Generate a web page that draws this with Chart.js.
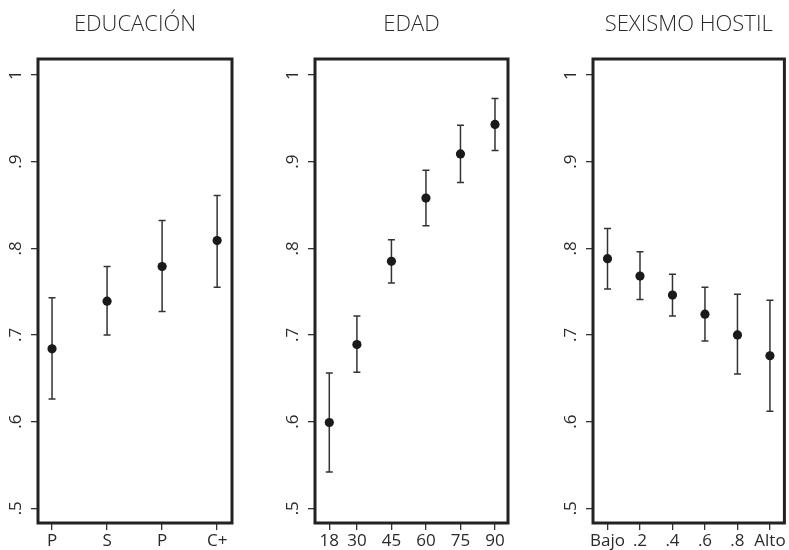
<!DOCTYPE html>
<html>
<head>
<meta charset="utf-8">
<script src="https://cdn.jsdelivr.net/npm/chart.js@4.4.1/dist/chart.umd.min.js"></script>
<style>
  html, body { margin: 0; padding: 0; background: #fff; }
  #wrap { position: relative; width: 789px; height: 550px; overflow: hidden; }
  canvas { position: absolute; top: 0; }
</style>
</head>
<body>
<div id="wrap">
  <canvas id="c1" width="240" height="550" style="left:0px"></canvas>
  <canvas id="c2" width="240" height="550" style="left:277px"></canvas>
  <canvas id="c3" width="234" height="550" style="left:555px"></canvas>
</div>
<script>
// Datos (probabilidad predicha con IC)
const yTicks = [0.5, 0.6, 0.7, 0.8, 0.9, 1];

const eduX = [1, 2, 3, 4];
const eduLabels = ['P', 'S', 'P', 'C+'];
const eduMean = [0.684, 0.739, 0.779, 0.809];
const eduLow = [0.626, 0.700, 0.727, 0.755];
const eduHigh = [0.743, 0.779, 0.832, 0.861];

const ageX = [18, 30, 45, 60, 75, 90];
const ageLabels = ['18', '30', '45', '60', '75', '90'];
const ageMean = [0.599, 0.689, 0.785, 0.858, 0.909, 0.943];
const ageLow = [0.542, 0.657, 0.760, 0.826, 0.876, 0.913];
const ageHigh = [0.656, 0.722, 0.810, 0.890, 0.942, 0.973];

const sexX = [0, 0.2, 0.4, 0.6, 0.8, 1];
const sexLabels = ['Bajo', '.2', '.4', '.6', '.8', 'Alto'];
const sexMean = [0.788, 0.768, 0.746, 0.724, 0.700, 0.676];
const sexLow = [0.753, 0.741, 0.722, 0.693, 0.655, 0.612];
const sexHigh = [0.823, 0.796, 0.770, 0.755, 0.747, 0.740];

const ink = '#2a2a2a';
const tickFont = { family: "'Open Sans', sans-serif", size: 17 };

// barras de error, dibujadas con las escalas del gráfico
const errorBars = {
    id: 'errorBars',
    beforeDatasetsDraw(chart, args, opts) {
        const { ctx, scales: { x, y } } = chart;
        ctx.save();
        ctx.strokeStyle = '#333';
        ctx.lineWidth = 1.5;
        opts.xs.forEach((v, i) => {
            const px = x.getPixelForValue(v);
            const top = y.getPixelForValue(opts.high[i]);
            const bot = y.getPixelForValue(opts.low[i]);
            ctx.beginPath();
            ctx.moveTo(px, top); ctx.lineTo(px, bot);
            ctx.moveTo(px - 3.5, top); ctx.lineTo(px + 3.5, top);
            ctx.moveTo(px - 3.5, bot); ctx.lineTo(px + 3.5, bot);
            ctx.stroke();
        });
        ctx.restore();
    }
};

// marco del panel
const frame = {
    id: 'frame',
    afterDraw(chart) {
        const { ctx, chartArea: a } = chart;
        ctx.save();
        ctx.strokeStyle = '#222';
        ctx.lineWidth = 3;
        ctx.strokeRect(a.left, a.top, a.right - a.left, a.bottom - a.top);
        ctx.restore();
    }
};

function makePanel(id, title, xs, labels, mean, low, high, xMin, xMax, padRight) {
    return new Chart(document.getElementById(id), {
        type: 'scatter',
        data: {
            datasets: [{
                data: xs.map((v, i) => ({ x: v, y: mean[i] })),
                pointRadius: 4.6,
                pointBackgroundColor: '#1a1a1a',
                pointBorderWidth: 0
            }]
        },
        options: {
            responsive: false,
            animation: false,
            layout: { padding: { right: padRight } },
            scales: {
                x: {
                    type: 'linear',
                    min: xMin,
                    max: xMax,
                    afterBuildTicks: s => { s.ticks = xs.map(v => ({ value: v })); },
                    afterFit: s => { s.height = 27; s.paddingLeft = 0; s.paddingRight = 0; },
                    grid: { drawOnChartArea: false, drawTicks: true, tickLength: 7, color: '#333', lineWidth: 1.3 },
                    border: { display: false },
                    ticks: {
                        color: ink,
                        font: tickFont,
                        padding: 1,
                        maxRotation: 0,
                        autoSkip: false,
                        callback: (v, i) => labels[i]
                    }
                },
                y: {
                    min: 0.483,
                    max: 1.0185,
                    afterBuildTicks: s => { s.ticks = yTicks.map(v => ({ value: v })); },
                    afterFit: s => { s.width = 38; s.paddingTop = 0; s.paddingBottom = 0; },
                    grid: { drawOnChartArea: false, drawTicks: true, tickLength: 7, color: '#333', lineWidth: 1.3 },
                    border: { display: false },
                    ticks: {
                        color: ink,
                        font: tickFont,
                        padding: 8,
                        minRotation: 90,
                        maxRotation: 90,
                        crossAlign: 'center',
                        callback: v => (Math.abs(v - 1) < 1e-9 ? '1' : v.toFixed(1).replace(/^0/, ''))
                    }
                }
            },
            plugins: {
                legend: { display: false },
                tooltip: { enabled: false },
                title: {
                    display: true,
                    text: title,
                    fullSize: false,
                    color: ink,
                    font: { family: "'Open Sans', sans-serif", size: 22, weight: 300 },
                    padding: { top: 12, bottom: 20.6 }
                },
                errorBars: { xs: xs, low: low, high: high }
            }
        },
        plugins: [errorBars, frame]
    });
}

makePanel('c1', 'EDUCACIÓN', eduX, eduLabels, eduMean, eduLow, eduHigh, 0.745, 4.27, 8);
makePanel('c2', 'EDAD', ageX, ageLabels, ageMean, ageLow, ageHigh, 11.79, 95.65, 9);
makePanel('c3', 'SEXISMO HOSTIL', sexX, sexLabels, sexMean, sexLow, sexHigh, -0.0893, 1.089, 2);
</script>
</body>
</html>
